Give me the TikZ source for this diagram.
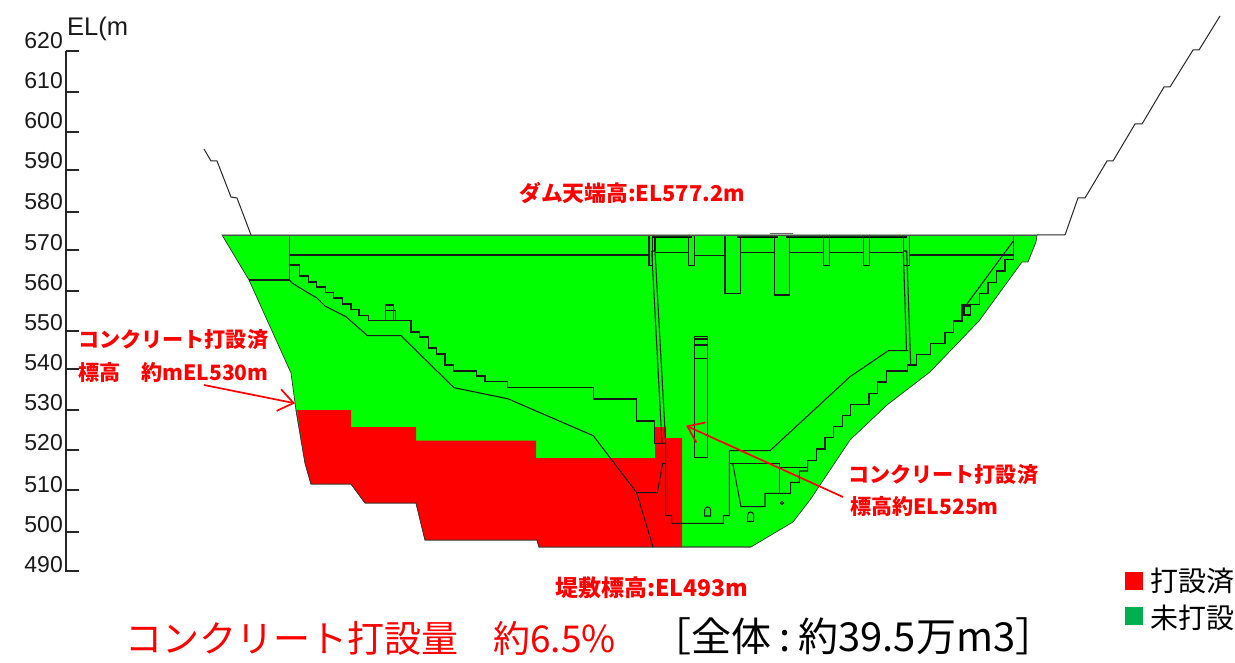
\documentclass[tikz,border=0pt]{standalone}
\usepackage{fontspec}
\setmainfont{Liberation Sans}
\newfontfamily\jpfont{Noto Sans CJK JP}
\usetikzlibrary{arrows.meta}
\definecolor{damgreen}{RGB}{0,255,0}
\definecolor{legendgreen}{RGB}{0,176,80}
\tikzset{
  x=1pt,y=-1pt,
  lin/.style={draw=black!90,line width=1.05pt,line join=miter},
  bar/.style={draw=black,fill=black!75!damgreen,line width=0.6pt},
  rock/.style={draw=black!85,line width=1pt},
  tick/.style={draw=black!85,line width=1.3pt},
  elev/.style={anchor=east,font=\fontsize{23}{23}\selectfont,text=black!90,inner sep=0pt},
  note/.style={anchor=west,font=\jpfont\bfseries\fontsize{21.1}{21.1}\selectfont,text=red,inner sep=0pt},
  leg/.style={anchor=west,font=\jpfont\fontsize{28}{28}\selectfont,inner sep=0pt},
  callout/.style={draw=red,line width=1.7pt,-{Straight Barb[length=15pt,width=22pt,line width=1.7pt]}},
}
\begin{document}
\begin{tikzpicture}
\useasboundingbox (0,0) rectangle (1235,663);
% elevation axis
\draw[tick,line width=1.4pt] (66,51) -- (66,572);
\foreach \yy in {51,92,132,170,212,250,291,331,369,410,450,490,532,571}
  \draw[tick] (66,\yy) -- (79,\yy);
\foreach[count=\i] \lab/\yy in {620/41,610/81,600/121,590/161,580/202,570/243,560/283,550/323,540/363,530/403,520/443,510/485,500/525,490/565}
  \node[elev] (el\i) at (63,\yy) {\lab};
\node[anchor=west,font=\fontsize{25.5}{25.5}\selectfont,inner sep=0pt,text=black!90] (elunit) at (67,29) {EL(m};
% rock lines
\draw[rock] (204,149)--(211,161)--(217,161)--(231,197)--(237,198)--(251,235);
\draw[rock] (1037,235)--(1065,235)--(1078,198)--(1085,198)--(1107,161)--(1113,161)--(1135,124)--(1142,124)--(1164,87)--(1170,87)--(1193,50)--(1199,50)--(1220,16);
% dam body
\path[fill=damgreen,draw=black!80,line width=0.7pt] (222,235)--(249,280)--(291,373)--(296,410)--(305,463)--(311,484)--(351,484)--(365,503)--(416,503)--(425,540)--(537,540)--(539,547)--(751,547)--(793,522)--(810,500)--(850,440)--(887,405)--(930,372)--(979,321)--(1022,262)--(1028,262)--(1036,242)--(1037,235)--cycle;
% placed concrete
\fill[red] (297,410)--(351,410)--(351,427)--(416,427)--(416,440.5)--(536,440.5)--(536,458)--(655,458)--(655,427)--(666,427)--(666,438)--(682,438)--(682,547)--(539,547)--(537,540)--(425,540)--(416,503)--(365,503)--(351,484)--(311,484)--(305,463)--cycle;
\draw[draw=black!80,line width=0.7pt] (296,410)--(305,463)--(311,484)--(351,484)--(365,503)--(416,503)--(425,540)--(537,540)--(539,547)--(751,547);
% left abutment lines
\draw[lin] (289.5,235)--(289.5,280) (249,280)--(289.5,280);
\draw[lin] (289.5,255)--(649,255);
\draw[lin] (289.5,265)--(299.5,265)--(299.5,276)--(308.5,276)--(308.5,282)--(316.5,282)--(316.5,287)--(325.5,287)--(325.5,292.5)--(333.5,292.5)--(333.5,298)--(342.5,298)--(342.5,304)--(351,304)--(351,309.5)--(359,309.5)--(359,315.5)--(368.5,315.5)--(368.5,320.5)--(411,320.5)--(411,332)--(419.5,332)--(419.5,337)--(428.5,337)--(428.5,348)--(436.5,348)--(436.5,354)--(445,354)--(445,365)--(453.7,365)--(453.7,371)--(476.7,371)--(476.7,376)--(485,376)--(485,381.7)--(507.7,381.7)--(507.7,387.7)--(593.3,387.7)--(593.3,399)--(636.7,399)--(636.7,421)--(654.7,421)--(654.7,443.3)--(666,443.3);
\draw[lin] (385.3,320.5)--(385.3,305)--(393.7,305)--(393.7,320.5) (385.3,310.7)--(395.7,310.7)--(395.7,320.5);
\draw[lin] (289.5,280)--(292,283)--(305,291)--(317,298)--(325,306)--(346,316.7)--(367.5,335.7)--(401,335.7)--(454,387.7)--(507.7,398.7)--(593.3,435.7)--(636.7,492.7)--(653,547);
\draw[lin] (636.7,492.7)--(657.3,492.7)--(662.7,463.3)--(665.7,463.3);
% gallery / spillway lines
\draw[lin] (651.7,251)--(662,443.3);
\draw[lin] (651.7,251)--(655,251)--(665.7,443.3)--(665.7,515.7)--(671.7,515.7)--(671.7,523.3)--(723.3,523.3)--(723.3,515.7)--(729.3,515.7)--(729.3,450.7)--(770,450.7)--(850,376.7)--(888.3,350.7)--(908.3,350.7);
\draw[lin] (729.3,463.3)--(779.3,463.3)--(779.3,493.3);
\draw[lin] (732.7,463.3)--(741,506.7)--(765,506.7)--(765,493.3)--(790.7,493.3)--(790.7,482.3)--(799.3,482.3)--(799.3,471)--(807.7,471)--(807.7,460.7);
\draw[lin] (779.3,467.3)--(807.7,467.3)--(807.7,460.7)--(816.3,460.7)--(816.3,449)--(825,449)--(825,437.7)--(833.3,437.7)--(833.3,426.7)--(842.3,426.7)--(842.3,415.7)--(850.7,415.7)--(850.7,404.3)--(869,404.3)--(869,393.3)--(877.7,393.3)--(877.7,382)--(886.7,382)--(886.7,371)--(907.7,371)--(907.7,365)--(916.5,365)--(916.5,354.3)--(930.7,354.3)--(930.7,343.3)--(945,343.3)--(945,332.5)--(953.3,332.5)--(953.3,321)--(962,321)--(962,304.3)--(979.3,304.3)--(979.3,293.3)--(988,293.3)--(988,282.3)--(996.7,282.3)--(996.7,271)--(1005,271)--(1005,259.7)--(1013.3,259.7)--(1013.3,235);
\draw[lin] (962,315)--(970.7,315)--(970.7,306)--(964,306)--(964,315);
\draw[lin] (966.7,304.3)--(1013.3,241);
\draw[lin] (909.3,255)--(1013.3,255);
\draw[lin] (903.3,251)--(906.5,350.7);
\draw[lin] (903.3,251)--(906.7,251)--(910.7,365);
% crown piers and blocks
\foreach \xa/\xb/\yb in {649/652.3/265.7,688.7/694.7/265.7,725/740.7/293.7,774.7/789.3/295,823.3/829.3/265.7,863.3/869.7/265.7,903.3/909.3/265.7}
  \draw[lin] (\xa,235)--(\xa,\yb)--(\xb,\yb)--(\xb,235);
\foreach \xa/\xb/\yy in {655/688.7/252.3,694.7/725/255.3,740.7/774.7/252.3,789.3/823.3/252.3,829.3/863.3/252.3,869.7/903.3/252.3}
  \draw[lin] (\xa,\yy)--(\xb,\yy);
\draw[lin] (655,237)--(655,251);
\foreach \xa/\xb in {652.3/691.7,737.7/777.7,786.7/826.7,826.7/866,866.7/906.7}
  \draw[bar] (\xa,235) rectangle (\xb,237.3);
\draw[draw=black!60,line width=0.8pt] (770,233.5)--(793.3,233.5);
\draw[draw=black!70,line width=0.9pt] (222,235)--(1037,235);
% central shaft
\draw[lin] (694.3,336.7) rectangle (707.3,457.7);
\draw[lin] (694.3,339)--(707.3,339) (694.3,345)--(707.3,345) (694.3,358.3)--(707.3,358.3);
% doors
\draw[lin] (704.7,516)--(704.7,510) arc[start angle=180,end angle=360,radius=3]--(710.7,516)--cycle;
\draw[lin] (747.7,521.3)--(747.7,515) arc[start angle=180,end angle=360,radius=3]--(753.7,521.3)--cycle;
\draw[lin] (782,503) circle[radius=1.6];
% callouts
\node[note,font=\jpfont\bfseries\fontsize{21.8}{21.8}\selectfont] (crest) at (519,193) {ダム天端高:EL577.2m};
\node[note] (lefta) at (78,340) {コンクリート打設済};
\node[note] (leftb) at (78,372) {標高\hspace{1em}約mEL530m};
\node[note] (righta) at (848,475) {コンクリート打設済};
\node[note] (rightb) at (850,506) {標高約EL525m};
\node[note,font=\jpfont\bfseries\fontsize{23}{23}\selectfont] (base) at (555,588) {堤敷標高:EL493m};
\coordinate (ltail) at (204,385);
\coordinate (ltip) at (295,403.3);
\coordinate (rtail) at (843,497);
\coordinate (rtip) at (686,425.7);
\draw[callout] (ltail)--(ltip);
\draw[callout] (rtail)--(rtip);
% legend
\node[fill=red,minimum width=18pt,minimum height=18pt,inner sep=0pt] (lr) at (1134,581) {};
\node[fill=legendgreen,minimum width=18pt,minimum height=18pt,inner sep=0pt] (lg) at (1134,616) {};
\node[leg] (lrt) at (1150,581) {打設済};
\node[leg] (lgt) at (1150,618) {未打設};
% bottom line
\node[anchor=west,inner sep=0pt,text=red,font=\jpfont\fontsize{37}{37}\selectfont] (sumr) at (125,638) {コンクリート打設量\hspace{0.95em}約6.5\%};
\node[anchor=west,inner sep=0pt,font=\jpfont\fontsize{40}{40}\selectfont] (sumb) at (651,636) {［全体\hspace{0.2em}:\hspace{0.2em}約39.5万m3］};
\end{tikzpicture}
\end{document}
